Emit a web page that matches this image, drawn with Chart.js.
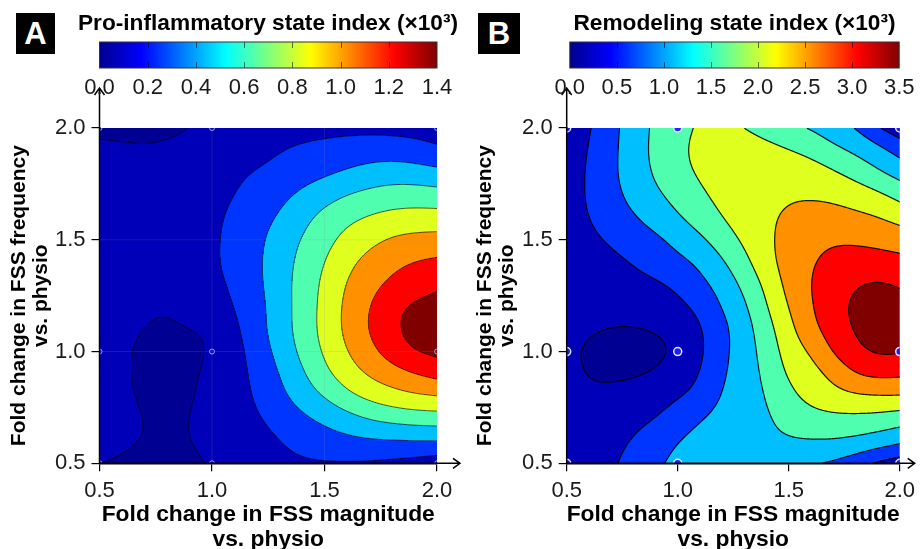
<!DOCTYPE html>
<html>
<head>
<meta charset="utf-8">
<script src="https://cdn.jsdelivr.net/npm/chart.js@4.4.1/dist/chart.umd.min.js"></script>
<style>
  html, body { margin: 0; padding: 0; background: #fff; }
  #wrap { position: relative; width: 921px; height: 549px; overflow: hidden; }
  canvas { position: absolute; left: 0; top: 0; }
  .tag { position: absolute; height: 41px; background: #000; color: #fff; text-align: center;
         font: bold 31px 'Liberation Sans', Arial, sans-serif; line-height: 42px; }
</style>
</head>
<body>
<div id="wrap">
  <canvas id="plotA" width="921" height="549"></canvas>
  <canvas id="plotB" width="921" height="549"></canvas>
  <canvas id="barA" width="536" height="110" style="left:0px"></canvas>
  <canvas id="barB" width="373" height="110" style="left:548px"></canvas>
  <div class="tag" style="left:16px;top:13px;width:39px">A</div>
  <div class="tag" style="left:478px;top:13px;width:42px">B</div>
</div>
<script>
const FONT = "'Liberation Sans', Arial, Helvetica, sans-serif";

// grid the index was read on (x: FSS magnitude, y: FSS frequency), top row first
const gridX = [0.5, 0.6, 0.7, 0.8, 0.9, 1.0, 1.1, 1.2, 1.3, 1.4, 1.5, 1.6, 1.7, 1.8, 1.9, 2.0];
const gridY = [2.0, 1.9, 1.8, 1.7, 1.6, 1.5, 1.4, 1.3, 1.2, 1.1, 1.0, 0.9, 0.8, 0.7, 0.6, 0.5];

// pro-inflammatory state index (x10^3)
const proInflammatory = [
  [0.135,0.132,0.129,0.135,0.150,0.173,0.203,0.225,0.240,0.252,0.258,0.263,0.263,0.258,0.248,0.233],
  [0.165,0.162,0.158,0.162,0.173,0.188,0.210,0.240,0.293,0.323,0.345,0.368,0.383,0.383,0.360,0.315],
  [0.188,0.183,0.180,0.183,0.195,0.218,0.270,0.315,0.353,0.390,0.423,0.461,0.503,0.525,0.518,0.495],
  [0.203,0.198,0.195,0.200,0.218,0.248,0.300,0.360,0.413,0.476,0.540,0.606,0.645,0.672,0.675,0.660],
  [0.218,0.210,0.207,0.210,0.233,0.270,0.330,0.398,0.461,0.555,0.653,0.720,0.765,0.795,0.810,0.810],
  [0.225,0.218,0.213,0.218,0.240,0.278,0.338,0.420,0.510,0.611,0.705,0.795,0.863,0.923,0.945,0.953],
  [0.225,0.218,0.213,0.218,0.240,0.278,0.341,0.428,0.525,0.645,0.750,0.863,0.953,1.013,1.058,1.080],
  [0.218,0.210,0.203,0.207,0.233,0.270,0.315,0.420,0.533,0.660,0.780,0.915,1.005,1.080,1.140,1.178],
  [0.210,0.195,0.162,0.152,0.188,0.240,0.300,0.398,0.525,0.660,0.795,0.938,1.050,1.170,1.230,1.253],
  [0.188,0.165,0.146,0.135,0.143,0.155,0.270,0.396,0.527,0.662,0.800,0.939,1.065,1.179,1.260,1.290],
  [0.180,0.158,0.138,0.128,0.132,0.150,0.240,0.368,0.495,0.638,0.773,0.900,1.013,1.125,1.215,1.245],
  [0.180,0.158,0.138,0.132,0.138,0.165,0.240,0.338,0.450,0.578,0.720,0.833,0.923,0.990,1.050,1.103],
  [0.180,0.158,0.143,0.135,0.143,0.168,0.240,0.315,0.413,0.518,0.608,0.720,0.795,0.848,0.885,0.900],
  [0.180,0.165,0.149,0.138,0.149,0.173,0.233,0.285,0.345,0.420,0.480,0.540,0.608,0.645,0.668,0.675],
  [0.173,0.159,0.149,0.140,0.149,0.168,0.210,0.255,0.293,0.345,0.383,0.413,0.428,0.435,0.443,0.450],
  [0.150,0.143,0.135,0.132,0.138,0.153,0.195,0.233,0.263,0.282,0.290,0.290,0.285,0.270,0.248,0.218]
];

// remodeling state index (x10^3)
const remodeling = [
  [0.60,0.74,1.08,1.40,1.68,1.88,2.06,2.12,2.008,1.84,1.70,1.58,1.40,1.22,0.82,0.56],
  [0.58,0.808,1.10,1.42,1.70,1.92,2.12,2.22,2.22,2.14,2.02,1.88,1.68,1.54,1.36,1.08],
  [0.56,0.86,1.12,1.40,1.66,1.88,2.06,2.20,2.28,2.32,2.30,2.22,2.06,1.86,1.64,1.448],
  [0.54,0.88,1.08,1.32,1.54,1.72,1.94,2.12,2.24,2.32,2.36,2.372,2.34,2.24,2.10,1.88],
  [0.54,0.82,1.00,1.16,1.38,1.568,1.78,2.012,2.20,2.34,2.46,2.52,2.528,2.48,2.42,2.28],
  [0.56,0.70,0.86,0.98,1.10,1.32,1.52,1.80,2.08,2.32,2.56,2.70,2.78,2.76,2.70,2.624],
  [0.50,0.60,0.70,0.82,0.96,1.10,1.26,1.54,1.90,2.28,2.58,2.78,2.90,2.96,2.96,2.92],
  [0.46,0.52,0.60,0.68,0.74,0.86,1.10,1.34,1.68,2.10,2.54,2.82,3.00,3.192,3.28,3.192],
  [0.44,0.46,0.48,0.52,0.58,0.70,0.88,1.22,1.52,1.98,2.42,2.792,3.04,3.32,3.38,3.32],
  [0.46,0.428,0.388,0.372,0.396,0.52,0.74,1.08,1.42,1.84,2.28,2.72,2.98,3.26,3.40,3.40],
  [0.44,0.36,0.312,0.30,0.32,0.40,0.72,1.10,1.40,1.76,2.18,2.42,2.86,3.12,3.30,3.26],
  [0.46,0.38,0.352,0.352,0.40,0.58,0.788,1.16,1.40,1.68,2.08,2.24,2.48,2.832,2.92,2.88],
  [0.48,0.44,0.46,0.52,0.64,0.768,0.90,1.24,1.42,1.60,1.90,2.16,2.28,2.34,2.38,2.40],
  [0.50,0.52,0.60,0.70,0.792,0.98,1.192,1.34,1.46,1.552,1.70,1.84,1.90,1.90,1.86,1.76],
  [0.52,0.60,0.70,0.82,1.00,1.212,1.34,1.42,1.48,1.54,1.588,1.60,1.592,1.54,1.44,1.32],
  [0.54,0.64,0.74,0.92,1.12,1.32,1.38,1.42,1.42,1.38,1.32,1.24,1.16,0.98,0.74,0.60]
];

const levelsA = [0.15, 0.30, 0.45, 0.60, 0.75, 0.90, 1.05, 1.20];
const levelsB = [0.4, 0.8, 1.2, 1.6, 2.0, 2.4, 2.8, 3.2];

// measured conditions (white circles)
const sampleX = [0.5, 1.0, 2.0];
const sampleY = [0.5, 1.0, 2.0];

const axisTicks = [0.5, 1.0, 1.5, 2.0];
const barTicksA = [0.0, 0.2, 0.4, 0.6, 0.8, 1.0, 1.2, 1.4];
const barTicksB = [0.0, 0.5, 1.0, 1.5, 2.0, 2.5, 3.0, 3.5];

const titleA = 'Pro-inflammatory state index (\u00d710\u00b3)';
const titleB = 'Remodeling state index (\u00d710\u00b3)';
const xTitle = ['Fold change in FSS magnitude', 'vs. physio'];
const yTitle = ['Fold change in FSS frequency', 'vs. physio'];

const bandColors = ['#000092', '#0000b8', '#0035ff', '#00bfff', '#4fffaf', '#dfff1f', '#ff9000', '#ff0000', '#800000'];
const bandRGB = bandColors.map(h => [1, 3, 5].map(i => parseInt(h.substr(i, 2), 16)));
const jetStops = [[0, '#00008f'], [0.125, '#0000ff'], [0.375, '#00ffff'], [0.625, '#ffff00'], [0.875, '#ff0000'], [1, '#800000']];

// ---- smooth surface over the read grid (cubic B-spline) ----
function cell(rows, i, j) {
  const nx = rows[0].length, ny = rows.length;
  if (i < 0) return 2 * cell(rows, 0, j) - cell(rows, 1, j);
  if (i >= nx) return 2 * cell(rows, nx - 1, j) - cell(rows, nx - 2, j);
  if (j < 0) return 2 * cell(rows, i, 0) - cell(rows, i, 1);
  if (j >= ny) return 2 * cell(rows, i, ny - 1) - cell(rows, i, ny - 2);
  return rows[j][i];
}
function bs(p0, p1, p2, p3, t) {
  const t2 = t * t, t3 = t2 * t, u = 1 - t;
  return (p0 * u * u * u + p1 * (3 * t3 - 6 * t2 + 4) + p2 * (-3 * t3 + 3 * t2 + 3 * t + 1) + p3 * t3) / 6;
}
function fieldAt(rows, x, y) {
  const nx = gridX.length, ny = gridY.length;
  let fx = (x - gridX[0]) / (gridX[1] - gridX[0]);
  let fy = (gridY[0] - y) / (gridY[0] - gridY[1]);
  fx = Math.min(Math.max(fx, 0), nx - 1.000001);
  fy = Math.min(Math.max(fy, 0), ny - 1.000001);
  const i = Math.floor(fx), j = Math.floor(fy), tx = fx - i, ty = fy - j;
  const col = [];
  for (let m = -1; m <= 2; m++) {
    col.push(bs(cell(rows, i - 1, j + m), cell(rows, i, j + m), cell(rows, i + 1, j + m), cell(rows, i + 2, j + m), tx));
  }
  return bs(col[0], col[1], col[2], col[3], ty);
}

// filled contours + contour lines, drawn under the sample points
function contourLayer(rows, levels, look) {
  return {
    id: 'contourLayer',
    beforeDatasetsDraw(chart) {
      const { ctx, chartArea: a, scales } = chart;
      const w = Math.ceil(a.right - a.left), h = Math.ceil(a.bottom - a.top);
      const vals = new Float32Array(w * h);
      for (let py = 0; py < h; py++) {
        const vy = scales.y.getValueForPixel(a.top + py + 0.5);
        for (let px = 0; px < w; px++) {
          vals[py * w + px] = fieldAt(rows, scales.x.getValueForPixel(a.left + px + 0.5), vy);
        }
      }
      const off = document.createElement('canvas');
      off.width = w; off.height = h;
      const octx = off.getContext('2d');
      const img = octx.createImageData(w, h);
      for (let k = 0; k < w * h; k++) {
        let b = 0;
        while (b < levels.length && vals[k] >= levels[b]) b++;
        const c = bandRGB[b];
        img.data[4 * k] = c[0]; img.data[4 * k + 1] = c[1]; img.data[4 * k + 2] = c[2]; img.data[4 * k + 3] = 255;
      }
      octx.putImageData(img, 0, 0);

      ctx.save();
      ctx.beginPath();
      ctx.rect(a.left, a.top, a.right - a.left, a.bottom - a.top);
      ctx.clip();
      ctx.drawImage(off, a.left, a.top);

      if (look.grid) {
        ctx.beginPath();
        [1.0, 1.5].forEach(v => {
          const px = scales.x.getPixelForValue(v), py = scales.y.getPixelForValue(v);
          ctx.moveTo(px, a.top); ctx.lineTo(px, a.bottom);
          ctx.moveTo(a.left, py); ctx.lineTo(a.right, py);
        });
        ctx.strokeStyle = look.grid; ctx.lineWidth = 1; ctx.stroke();
      }

      // marching squares on the pixel grid
      const ox = a.left + 0.5, oy = a.top + 0.5;
      ctx.beginPath();
      for (const t of levels) {
        for (let j = 0; j < h - 1; j++) {
          for (let i = 0; i < w - 1; i++) {
            const p = vals[j * w + i], q = vals[j * w + i + 1], r = vals[(j + 1) * w + i + 1], s = vals[(j + 1) * w + i];
            const bp = p >= t, bq = q >= t, br = r >= t, bs_ = s >= t;
            if (bp === bq && bq === br && br === bs_) continue;
            const pts = [];
            if (bp !== bq) pts.push([i + (t - p) / (q - p), j]);
            if (bq !== br) pts.push([i + 1, j + (t - q) / (r - q)]);
            if (bs_ !== br) pts.push([i + (t - s) / (r - s), j + 1]);
            if (bp !== bs_) pts.push([i, j + (t - p) / (s - p)]);
            const seg = (u, v) => { ctx.moveTo(ox + u[0], oy + u[1]); ctx.lineTo(ox + v[0], oy + v[1]); };
            if (pts.length === 2) seg(pts[0], pts[1]);
            else if (pts.length === 4) { seg(pts[0], pts[3]); seg(pts[1], pts[2]); }
          }
        }
      }
      ctx.strokeStyle = look.line;
      ctx.lineWidth = look.lineWidth;
      ctx.lineCap = 'round';
      ctx.stroke();
      ctx.restore();
    }
  };
}

function axisArrows(reach) {
  return {
    id: 'axisArrows',
    afterDraw(chart) {
      const { ctx, chartArea: a } = chart;
      ctx.save();
      ctx.strokeStyle = '#000';
      ctx.lineWidth = 1.5;
      ctx.beginPath();
      ctx.moveTo(a.left, a.bottom); ctx.lineTo(a.left, a.top - 40);
      ctx.moveTo(a.left - 5, a.top - 33); ctx.lineTo(a.left, a.top - 40); ctx.lineTo(a.left + 5, a.top - 33);
      ctx.moveTo(a.left, a.bottom); ctx.lineTo(a.right + reach, a.bottom);
      ctx.moveTo(a.right + reach - 7, a.bottom - 5); ctx.lineTo(a.right + reach, a.bottom); ctx.lineTo(a.right + reach - 7, a.bottom + 5);
      ctx.stroke();
      ctx.restore();
    }
  };
}

const jetStrip = {
  id: 'jetStrip',
  afterDraw(chart) {
    const { ctx, chartArea: a, scales: { x } } = chart;
    const x0 = x.getPixelForValue(x.ticks[0].value), x1 = x.getPixelForValue(x.ticks[x.ticks.length - 1].value);
    const g = ctx.createLinearGradient(x0, 0, x1, 0);
    jetStops.forEach(([p, c]) => g.addColorStop(p, c));
    ctx.save();
    ctx.fillStyle = g;
    ctx.fillRect(x0, a.top, x1 - x0, a.bottom - a.top);
    ctx.beginPath();
    x.ticks.slice(1, -1).forEach(t => {
      const px = Math.round(x.getPixelForValue(t.value)) + 0.5;
      ctx.moveTo(px, a.top); ctx.lineTo(px, a.top + 6);
      ctx.moveTo(px, a.bottom - 6); ctx.lineTo(px, a.bottom);
    });
    ctx.strokeStyle = 'rgba(0,0,0,0.55)';
    ctx.lineWidth = 1;
    ctx.stroke();
    ctx.strokeStyle = '#333';
    ctx.strokeRect(x0, a.top, x1 - x0, a.bottom - a.top);
    ctx.restore();
  }
};

const tickFont = { family: FONT, size: 22 };
const xTitleFont = { family: FONT, size: 22.8, weight: 'bold', lineHeight: 1.1 };
const yTitleFont = { family: FONT, size: 21, weight: 'bold', lineHeight: 1.05 };

function contourChart(id, rows, levels, box, look) {
  const samplePoints = [];
  sampleY.forEach(y => sampleX.forEach(x => samplePoints.push({ x, y })));
  return new Chart(document.getElementById(id), {
    type: 'scatter',
    data: {
      datasets: [{
        data: samplePoints,
        pointRadius: look.pointRadius,
        pointBorderWidth: look.pointBorder,
        pointBorderColor: look.pointColor,
        pointBackgroundColor: look.pointFill,
        clip: 0
      }]
    },
    options: {
      responsive: false,
      animation: false,
      events: [],
      layout: { padding: { left: box.padLeft, right: 921 - box.right, top: box.top, bottom: 0 } },
      plugins: { legend: { display: false }, tooltip: { enabled: false } },
      scales: {
        x: {
          type: 'linear', min: 0.5, max: 2.0,
          afterBuildTicks: s => { s.ticks = axisTicks.map(v => ({ value: v })); },
          afterFit: s => { s.height = 549 - box.bottom; },
          grid: { display: true, drawOnChartArea: false, drawTicks: true, tickLength: 8, color: '#000', lineWidth: 1.2 },
          border: { display: true, color: '#000', width: 1.5 },
          ticks: { font: tickFont, color: '#1a1a1a', padding: 6, maxRotation: 0, autoSkip: false, callback: v => v.toFixed(1) },
          title: { display: true, text: xTitle, color: '#000', font: xTitleFont, padding: { top: 0, bottom: -3 } }
        },
        y: {
          type: 'linear', min: 0.5, max: 2.0,
          afterBuildTicks: s => { s.ticks = axisTicks.map(v => ({ value: v })); },
          afterFit: s => { s.width = box.left - box.padLeft; },
          grid: { display: true, drawOnChartArea: false, drawTicks: true, tickLength: 8, color: '#000', lineWidth: 1.2 },
          border: { display: true, color: '#000', width: 1.5 },
          ticks: { font: tickFont, color: '#1a1a1a', padding: 6, autoSkip: false, callback: v => v.toFixed(1) },
          title: { display: true, text: yTitle, color: '#000', font: yTitleFont, padding: { top: box.yTitlePad, bottom: 0 } }
        }
      }
    },
    plugins: [contourLayer(rows, levels, look), axisArrows(look.arrowReach)]
  });
}

// colour bar: the canvas is centred on the bar so the title can be wider than the bar
function colorBar(id, title, ticks, barLeft, barRight) {
  const canvas = document.getElementById(id);
  const left = parseFloat(canvas.style.left), width = canvas.width;
  const lo = ticks[0], hi = ticks[ticks.length - 1];
  const perPx = (hi - lo) / (barRight - barLeft);
  return new Chart(canvas, {
    type: 'scatter',
    data: { datasets: [] },
    options: {
      responsive: false,
      animation: false,
      events: [],
      layout: { padding: 0 },
      plugins: {
        legend: { display: false },
        tooltip: { enabled: false },
        title: {
          display: true, text: title, color: '#000',
          font: { family: FONT, size: 22.7, weight: 'bold', lineHeight: 1.2 },
          padding: { top: 10.5, bottom: 4.26 }
        }
      },
      scales: {
        x: {
          type: 'linear',
          min: lo - (barLeft - left) * perPx,
          max: hi + (left + width - barRight) * perPx,
          afterBuildTicks: s => { s.ticks = ticks.map(v => ({ value: v })); },
          afterFit: s => { s.height = 42; },
          grid: { display: false, drawTicks: false, tickLength: 0 },
          border: { display: false },
          ticks: { font: tickFont, color: '#1a1a1a', padding: 6.7, maxRotation: 0, autoSkip: false, callback: v => v.toFixed(1) }
        },
        y: { display: false, min: 0, max: 1 }
      }
    },
    plugins: [jetStrip]
  });
}

contourChart('plotA', proInflammatory, levelsA,
  { padLeft: 0, left: 99.5, right: 437, top: 128, bottom: 463.3, yTitlePad: 7.7 },
  { line: 'rgba(0,0,0,0.38)', lineWidth: 1, grid: 'rgba(140,140,160,0.18)',
    pointRadius: 2.5, pointBorder: 1, pointColor: 'rgba(170,170,255,0.9)', pointFill: 'rgba(0,0,0,0)', arrowReach: 23 });

contourChart('plotB', remodeling, levelsB,
  { padLeft: 470, left: 566.7, right: 903.3, top: 128, bottom: 463.3, yTitlePad: 3.7 },
  { line: 'rgba(0,0,0,0.9)', lineWidth: 1.2, grid: null,
    pointRadius: 4, pointBorder: 1.5, pointColor: '#e8e8ff', pointFill: 'rgba(30,30,255,0.95)', arrowReach: 15 });

colorBar('barA', titleA, barTicksA, 99.5, 437);
colorBar('barB', titleB, barTicksB, 566.5, 902.5);
</script>
</body>
</html>
